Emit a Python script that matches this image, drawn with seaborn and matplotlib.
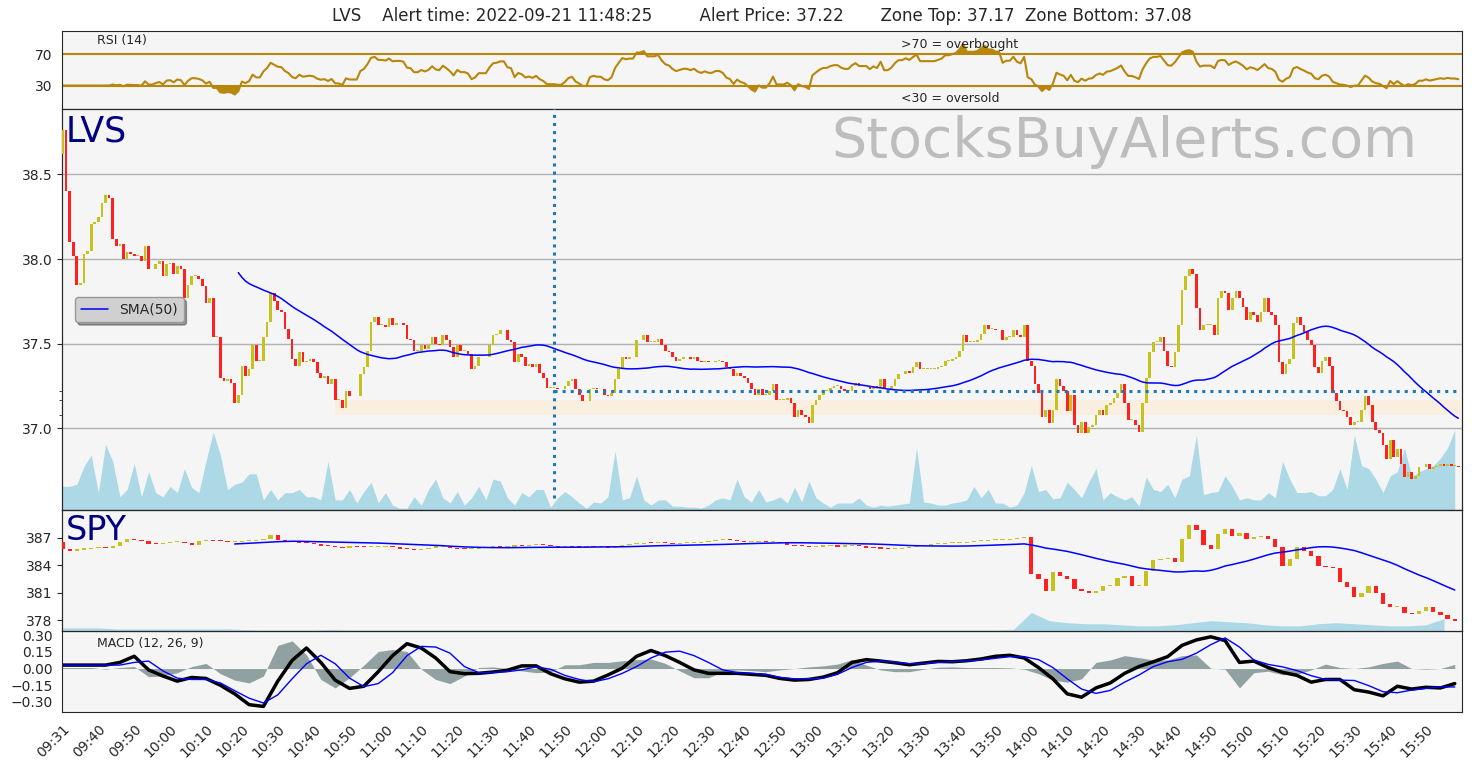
import numpy as np
import pandas as pd
import seaborn as sns
import matplotlib
matplotlib.use("Agg")
import matplotlib.pyplot as plt

sns.set_style("white")
plt.rcParams["font.family"] = ["DejaVu Sans"]

# ---- data (1-minute bars, 09:30..15:59 -> 390 bars) ----
lvs_open0 = 38.62
lvs_close = [
    38.76, 38.40, 38.10, 38.02, 37.85, 37.86, 38.03, 38.05, 38.21, 38.22,
    38.25, 38.33, 38.38, 38.36, 38.12, 38.08, 38.09, 38.00, 38.04, 38.03,
    38.02, 38.02, 37.99, 38.08, 37.94, 37.94, 37.97, 37.99, 37.90, 37.97,
    37.98, 37.91, 37.96, 37.94, 37.77, 37.85, 37.90, 37.90, 37.88, 37.84,
    37.74, 37.77, 37.54, 37.54, 37.30, 37.28, 37.29, 37.27, 37.15, 37.20,
    37.37, 37.31, 37.35, 37.49, 37.40, 37.40, 37.54, 37.63, 37.80, 37.75,
    37.70, 37.69, 37.59, 37.53, 37.41, 37.37, 37.45, 37.39, 37.40, 37.41,
    37.39, 37.33, 37.30, 37.31, 37.26, 37.29, 37.17, 37.17, 37.12, 37.22,
    37.19, 37.19, 37.19, 37.32, 37.36, 37.46, 37.63, 37.66, 37.61, 37.61,
    37.60, 37.65, 37.61, 37.62, 37.62, 37.61, 37.53, 37.52, 37.46, 37.46,
    37.49, 37.47, 37.49, 37.54, 37.50, 37.49, 37.55, 37.52, 37.48, 37.42,
    37.49, 37.46, 37.46, 37.44, 37.35, 37.37, 37.42, 37.42, 37.42, 37.49,
    37.55, 37.56, 37.58, 37.58, 37.52, 37.51, 37.39, 37.44, 37.42, 37.37,
    37.38, 37.36, 37.38, 37.33, 37.30, 37.24, 37.24, 37.24, 37.23, 37.23,
    37.25, 37.28, 37.29, 37.23, 37.20, 37.16, 37.16, 37.23, 37.24, 37.23,
    37.23, 37.20, 37.19, 37.21, 37.29, 37.35, 37.42, 37.41, 37.42, 37.42,
    37.52, 37.52, 37.55, 37.51, 37.51, 37.51, 37.53, 37.49, 37.46, 37.45,
    37.42, 37.40, 37.41, 37.42, 37.42, 37.41, 37.42, 37.40, 37.39, 37.40,
    37.39, 37.39, 37.40, 37.40, 37.39, 37.36, 37.35, 37.31, 37.33, 37.31,
    37.30, 37.27, 37.23, 37.20, 37.23, 37.20, 37.20, 37.22, 37.26, 37.17,
    37.17, 37.17, 37.18, 37.15, 37.07, 37.11, 37.08, 37.07, 37.03, 37.14,
    37.17, 37.20, 37.22, 37.22, 37.24, 37.25, 37.25, 37.23, 37.22, 37.22,
    37.25, 37.27, 37.25, 37.25, 37.25, 37.23, 37.25, 37.24, 37.29, 37.23,
    37.23, 37.25, 37.29, 37.32, 37.32, 37.34, 37.33, 37.36, 37.39, 37.35,
    37.35, 37.35, 37.35, 37.35, 37.36, 37.37, 37.40, 37.40, 37.41, 37.42,
    37.46, 37.55, 37.51, 37.51, 37.51, 37.52, 37.56, 37.61, 37.59, 37.59,
    37.58, 37.58, 37.52, 37.54, 37.54, 37.58, 37.55, 37.54, 37.61, 37.40,
    37.37, 37.26, 37.21, 37.07, 37.11, 37.03, 37.11, 37.29, 37.25, 37.22,
    37.10, 37.20, 37.02, 36.97, 37.04, 36.97, 37.01, 37.02, 37.08, 37.11,
    37.08, 37.14, 37.15, 37.18, 37.21, 37.26, 37.15, 37.05, 37.05, 37.02,
    36.98, 37.15, 37.30, 37.45, 37.51, 37.51, 37.54, 37.46, 37.37, 37.36,
    37.45, 37.61, 37.82, 37.90, 37.94, 37.91, 37.71, 37.58, 37.61, 37.61,
    37.61, 37.55, 37.77, 37.81, 37.80, 37.70, 37.77, 37.81, 37.77, 37.72,
    37.64, 37.69, 37.67, 37.63, 37.69, 37.77, 37.69, 37.67, 37.61, 37.39,
    37.32, 37.38, 37.41, 37.62, 37.66, 37.61, 37.57, 37.52, 37.49, 37.36,
    37.33, 37.40, 37.42, 37.37, 37.21, 37.16, 37.11, 37.10, 37.07, 37.02,
    37.04, 37.04, 37.11, 37.19, 37.14, 37.04, 36.99, 36.97, 36.90, 36.82,
    36.93, 36.83, 36.88, 36.79, 36.71, 36.74, 36.70, 36.72, 36.77, 36.77,
    36.79, 36.76, 36.77, 36.78, 36.79, 36.78, 36.79, 36.78, 36.78, 36.77,
]

# LVS volume, every 2nd bar (thousand shares)
lvs_volume = [
    23, 23, 25, 42, 53, 17, 63, 47, 13, 20,
    45, 13, 37, 17, 13, 23, 17, 40, 22, 17,
    47, 75, 53, 20, 25, 27, 35, 35, 10, 20,
    10, 17, 17, 20, 13, 13, 10, 47, 10, 10,
    20, 7, 18, 27, 7, 17, 5, 2, 2, 13,
    5, 20, 30, 12, 7, 18, 5, 12, 23, 10,
    30, 28, 12, 5, 17, 13, 20, 20, 3, 12,
    18, 13, 7, 2, 8, 7, 13, 57, 10, 12,
    33, 10, 5, 10, 10, 4, 4, 3, 3, 2,
    5, 10, 12, 10, 30, 13, 8, 20, 8, 10,
    13, 7, 22, 8, 28, 12, 7, 3, 7, 7,
    7, 12, 5, 3, 5, 4, 5, 6, 7, 60,
    8, 7, 5, 5, 7, 8, 10, 23, 12, 20,
    7, 7, 3, 5, 17, 43, 18, 20, 11, 12,
    27, 20, 12, 27, 40, 10, 17, 13, 10, 13,
    4, 32, 20, 18, 25, 12, 30, 33, 72, 15,
    17, 18, 33, 23, 10, 12, 10, 10, 17, 12,
    47, 30, 17, 17, 18, 14, 14, 20, 40, 20,
    72, 43, 40, 30, 17, 33, 37, 60, 32, 37,
    40, 43, 50, 60, 77,
]

# SPY closes, every 2nd bar
spy_open0 = 386.52
spy_close = [
    385.79, 385.60, 385.71, 385.79, 385.90, 385.97, 385.86, 386.08, 386.52, 386.82,
    386.74, 386.67, 386.34, 386.30, 386.45, 386.52, 386.52, 386.45, 386.23, 386.67,
    386.78, 386.67, 386.60, 386.52, 386.52, 386.67, 386.67, 386.78, 386.82, 387.26,
    386.78, 386.60, 386.52, 386.45, 386.38, 386.27, 386.15, 386.08, 386.01, 385.90,
    386.08, 386.01, 385.97, 385.97, 385.97, 386.04, 385.97, 385.79, 385.75, 385.64,
    385.79, 385.93, 386.01, 386.01, 385.86, 385.79, 385.75, 385.82, 385.86, 385.93,
    386.01, 385.97, 386.04, 386.15, 386.12, 386.23, 386.34, 386.23, 386.08, 385.97,
    386.04, 385.97, 385.93, 386.01, 385.97, 386.01, 385.93, 386.08, 386.23, 386.27,
    386.34, 386.45, 386.38, 386.45, 386.41, 386.34, 386.38, 386.41, 386.45, 386.52,
    386.60, 386.71, 386.82, 386.71, 386.60, 386.52, 386.52, 386.56, 386.49, 386.52,
    386.41, 386.23, 386.12, 386.08, 386.01, 386.04, 386.08, 386.12, 386.04, 386.08,
    386.15, 386.12, 385.93, 385.86, 385.82, 385.79, 385.79, 385.86, 386.01, 386.08,
    386.15, 386.27, 386.30, 386.38, 386.41, 386.45, 386.52, 386.63, 386.67, 386.74,
    386.74, 386.78, 386.82, 386.93, 387.07, 383.03, 382.48, 381.19, 383.21, 382.77,
    382.48, 381.38, 381.19, 380.93, 381.19, 381.67, 381.74, 382.55, 382.77, 381.74,
    381.74, 383.40, 384.61, 384.68, 384.76, 384.39, 386.89, 388.43, 387.81, 386.23,
    385.79, 387.44, 387.99, 387.18, 387.55, 386.89, 387.04, 387.18, 386.82, 385.97,
    383.88, 384.68, 385.97, 385.60, 385.05, 383.88, 383.77, 383.65, 382.18, 381.56,
    380.57, 380.93, 381.74, 380.93, 379.72, 379.43, 379.46, 378.73, 378.65, 378.99,
    379.46, 378.87, 378.51, 378.07, 377.88,
]

# SPY volume, every 5th bar (relative)
spy_volume = [
    3, 3, 3, 2, 2, 2, 2, 2, 2, 2,                 # 09:30 - 10:15
    1.5, 1, 1, 1, 1, 1.5, 1, 1, 1, 1,             # 10:20 - 11:05
    1, 1, 1, 1, 1, 1, 1, 1, 1, 1,                 # 11:10 - 11:55
    1, 1, 1, 1, 1, 1, 1, 1, 1, 1,                 # 12:00 - 12:45
    1, 1, 1, 1, 1, 1, 1, 1, 1, 1,                 # 12:50 - 13:35
    1, 1, 1, 1.5,                                 # 13:40 - 13:55
    18, 10, 8, 7, 7, 6, 5, 5, 6, 8,               # 14:00 - 14:45
    10, 9, 8, 6, 5, 5, 7, 8, 7, 6,                # 14:50 - 15:35
    5, 5, 6, 12,                                  # 15:40 - 15:55
]

# MACD (12, 26, 9) read every 4th bar
macd_line = [
    0.031, 0.031, 0.031, 0.031, 0.055, 0.110, -0.012, -0.067, -0.113, -0.080,
    -0.089, -0.150, -0.227, -0.324, -0.340, -0.113, 0.073, 0.184, 0.055, -0.104,
    -0.178, -0.159, -0.028, 0.116, 0.223, 0.184, 0.095, -0.028, -0.046, -0.043,
    -0.031, -0.015, 0.024, 0.024, -0.046, -0.092, -0.122, -0.113, -0.058, 0.003,
    0.110, 0.162, 0.116, 0.055, -0.012, -0.043, -0.043, -0.043, -0.052, -0.061,
    -0.089, -0.104, -0.098, -0.077, -0.037, 0.055, 0.080, 0.067, 0.052, 0.034,
    0.049, 0.064, 0.061, 0.070, 0.086, 0.110, 0.119, 0.095, 0.009, -0.092,
    -0.227, -0.257, -0.174, -0.129, -0.043, 0.018, 0.061, 0.107, 0.208, 0.257,
    0.285, 0.251, 0.055, 0.067, 0.009, -0.034, -0.061, -0.122, -0.098, -0.098,
    -0.190, -0.211, -0.245, -0.159, -0.184, -0.168, -0.174, -0.135,
]
macd_signal = [
    0.031, 0.031, 0.031, 0.031, 0.031, 0.055, 0.067, -0.021, -0.086, -0.098,
    -0.098, -0.129, -0.199, -0.266, -0.309, -0.236, -0.092, 0.043, 0.119, 0.043,
    -0.086, -0.162, -0.135, -0.037, 0.116, 0.199, 0.193, 0.138, 0.018, -0.037,
    -0.034, -0.028, -0.012, 0.015, -0.006, -0.061, -0.098, -0.119, -0.092, -0.043,
    0.018, 0.095, 0.147, 0.156, 0.116, 0.055, -0.012, -0.037, -0.043, -0.052,
    -0.080, -0.092, -0.092, -0.086, -0.052, 0.009, 0.055, 0.067, 0.058, 0.043,
    0.043, 0.055, 0.061, 0.067, 0.077, 0.092, 0.107, 0.107, 0.080, 0.009,
    -0.092, -0.184, -0.223, -0.196, -0.122, -0.058, 0.018, 0.061, 0.083, 0.138,
    0.214, 0.275, 0.193, 0.077, 0.037, 0.015, -0.018, -0.064, -0.098, -0.104,
    -0.107, -0.153, -0.208, -0.217, -0.193, -0.178, -0.165, -0.165,
]
macd_hist = [
    0.009, 0.009, 0.009, -0.006, 0.009, 0.018, -0.073, -0.067, -0.037, 0.018,
    0.046, -0.046, -0.104, -0.129, -0.067, 0.208, 0.248, 0.122, -0.098, -0.174,
    -0.083, 0.031, 0.153, 0.171, 0.153, -0.006, -0.098, -0.135, -0.067, 0.009,
    0.015, 0.000, -0.021, -0.037, -0.031, 0.034, 0.034, 0.055, 0.055, 0.070,
    0.080, 0.086, 0.046, -0.021, -0.083, -0.083, -0.028, -0.012, -0.018, -0.028,
    -0.012, 0.000, 0.015, 0.024, 0.040, 0.080, 0.031, -0.012, -0.028, -0.028,
    -0.006, 0.012, 0.015, 0.009, 0.009, 0.009, 0.006, -0.006, -0.046, -0.104,
    -0.122, -0.092, 0.055, 0.077, 0.116, 0.098, 0.077, 0.077, 0.116, 0.122,
    0.003, -0.006, -0.174, -0.037, -0.024, -0.055, -0.052, -0.012, 0.040, 0.009,
    0.000, 0.015, 0.046, 0.067, 0.000, -0.006, 0.000, 0.037,
]

tick_labels = [
    "09:31", "09:40", "09:50", "10:00", "10:10", "10:20", "10:30", "10:40",
    "10:50", "11:00", "11:10", "11:20", "11:30", "11:40", "11:50", "12:00",
    "12:10", "12:20", "12:30", "12:40", "12:50", "13:00", "13:10", "13:20",
    "13:30", "13:40", "13:50", "14:00", "14:10", "14:20", "14:30", "14:40",
    "14:50", "15:00", "15:10", "15:20", "15:30", "15:40", "15:50",
]

alert_bar = 137
alert_price = 37.22
zone_top, zone_bottom = 37.17, 37.08
zone_start = 76

UP = "#c6c21c"
DOWN = "#ff2020"
BG = "#f5f5f5"
GOLD = "#b8860b"

n = len(lvs_close)
x = np.arange(n)
close = np.array(lvs_close)
opens = np.concatenate([[lvs_open0], close[:-1]])

spy_c = np.array(spy_close)
spy_x = np.arange(0, n, 2)[: len(spy_c)]
spy_o = np.concatenate([[spy_open0], spy_c[:-1]])

macd_x = np.arange(0, n, 4)[: len(macd_line)]


def candles(ax, xs, o, c, width, min_h):
    lo = np.minimum(o, c)
    h = np.maximum(np.abs(c - o), min_h)
    up = c >= o
    ax.bar(xs[up], h[up], width, bottom=lo[up], color=UP, lw=0, zorder=3)
    ax.bar(xs[~up], h[~up], width, bottom=lo[~up], color=DOWN, lw=0, zorder=3)


# ---- indicators computed from the closes ----
cs = pd.Series(close)
sma50 = cs.rolling(50).mean()
spy_sma = pd.Series(spy_c).rolling(25).mean()

delta = np.diff(close, prepend=close[0])
gain = np.clip(delta, 0, None)
loss = np.clip(-delta, 0, None)
ag = np.full(n, np.nan)
al = np.full(n, np.nan)
ag[14] = gain[1:15].mean()
al[14] = loss[1:15].mean()
for i in range(15, n):
    ag[i] = (ag[i - 1] * 13 + gain[i]) / 14
    al[i] = (al[i - 1] * 13 + loss[i]) / 14
rsi = 100 - 100 / (1 + ag / al)
rsi = np.where(np.isnan(rsi), 30, rsi)

# ---- figure ----
fig = plt.figure(figsize=(14.77, 7.68), dpi=100)
L, W = 0.0423, 0.9475
ax_rsi = fig.add_axes([L, 0.8581, W, 0.1019])
ax = fig.add_axes([L, 0.3355, W, 0.5226], sharex=ax_rsi)
ax_spy = fig.add_axes([L, 0.1784, W, 0.1571], sharex=ax_rsi)
ax_macd = fig.add_axes([L, 0.0729, W, 0.1055], sharex=ax_rsi)

for a in (ax_rsi, ax, ax_spy, ax_macd):
    a.set_facecolor(BG)
    a.tick_params(labelsize=10)

# RSI panel
sns.lineplot(x=x, y=rsi, ax=ax_rsi, color=GOLD, linewidth=1.5)
ax_rsi.axhline(70, color=GOLD, lw=1.5)
ax_rsi.axhline(30, color=GOLD, lw=1.5)
ax_rsi.fill_between(x, rsi, 30, where=rsi < 30, interpolate=True, color=GOLD, lw=0)
ax_rsi.fill_between(x, rsi, 70, where=rsi > 70, interpolate=True, color=GOLD, lw=0)
ax_rsi.set_ylim(0, 100)
ax_rsi.set_yticks([30, 70])
ax_rsi.text(0.025, 0.88, "RSI (14)", transform=ax_rsi.transAxes, fontsize=9, va="center")
ax_rsi.text(0.599, 0.83, ">70 = overbought", transform=ax_rsi.transAxes, fontsize=9, va="center")
ax_rsi.text(0.599, 0.14, "<30 = oversold", transform=ax_rsi.transAxes, fontsize=9, va="center")
ax_rsi.set_title("LVS    Alert time: 2022-09-21 11:48:25         Alert Price: 37.22"
                 "       Zone Top: 37.17  Zone Bottom: 37.08", fontsize=12, pad=7)

# main LVS panel with volume underneath
vol_ax = ax.twinx()
vol_x = np.arange(0, n, 2)[: len(lvs_volume)]
vol_ax.fill_between(vol_x, 0, lvs_volume, color="lightblue", lw=0)
vol_ax.set_ylim(0, max(lvs_volume) * 5.0)
vol_ax.set_yticks([])
vol_ax.patch.set_visible(True)
vol_ax.set_facecolor(BG)
ax.set_zorder(vol_ax.get_zorder() + 1)
ax.patch.set_visible(False)

ax.fill_between([zone_start, n], zone_bottom, zone_top, color="#f9eee0", lw=0, zorder=1)
candles(ax, x, opens, close, 0.75, 0.004)
sns.lineplot(x=x, y=sma50.values, ax=ax, color="blue", linewidth=1.1, label="SMA(50)", zorder=4)
ax.plot([alert_bar, n - 1], [alert_price, alert_price], ls=":", lw=2.2, color="#1f77b4", zorder=5)
ax.plot([alert_bar, alert_bar], [36.59, 38.9], ls=":", lw=2.2, color="#1f77b4", zorder=5)
ax.set_ylim(36.516, 38.887)
ax.set_yticks([37.0, 37.5, 38.0, 38.5])
ax.set_yticks([zone_bottom, zone_top, alert_price], minor=True)
ax.grid(axis="y", which="major", color="#b0b0b0", lw=1)
ax.set_axisbelow(True)
ax.text(0.002, 0.985, "LVS", transform=ax.transAxes, fontsize=25, color="navy", va="top")
ax.text(0.9686, 0.985, "StocksBuyAlerts.com", transform=ax.transAxes, fontsize=40,
        color="#bdbdbd", ha="right", va="top")
ax.legend(loc="center left", bbox_to_anchor=(0.004, 0.5), frameon=True, shadow=True,
          fancybox=True, facecolor="#d0d0d0", edgecolor="#999999", fontsize=10, framealpha=1)

# SPY panel
spy_vol_ax = ax_spy.twinx()
spy_vol_x = np.arange(0, n, 5)[: len(spy_volume)]
spy_vol_ax.fill_between(spy_vol_x, 0, spy_volume, color="lightblue", lw=0)
spy_vol_ax.set_ylim(0, max(spy_volume) * 6.5)
spy_vol_ax.set_yticks([])
spy_vol_ax.patch.set_visible(True)
spy_vol_ax.set_facecolor(BG)
ax_spy.set_zorder(spy_vol_ax.get_zorder() + 1)
ax_spy.patch.set_visible(False)

candles(ax_spy, spy_x, spy_o, spy_c, 1.2, 0.12)
sns.lineplot(x=spy_x, y=spy_sma.values, ax=ax_spy, color="blue", linewidth=1.1, zorder=4)
ax_spy.set_ylim(376.8, 390.0)
ax_spy.set_yticks([378, 381, 384, 387])
ax_spy.text(0.002, 0.97, "SPY", transform=ax_spy.transAxes, fontsize=24, color="navy", va="top")

# MACD panel
ax_macd.fill_between(macd_x, 0, macd_hist, color="darkslategray", alpha=0.5, lw=0)
sns.lineplot(x=macd_x, y=macd_line, ax=ax_macd, color="black", linewidth=2.5)
sns.lineplot(x=macd_x, y=macd_signal, ax=ax_macd, color="blue", linewidth=1.0)
ax_macd.set_ylim(-0.39, 0.337)
ax_macd.set_yticks([-0.30, -0.15, 0.0, 0.15, 0.30])
ax_macd.set_yticklabels(["\u22120.30", "\u22120.15", "0.00", "0.15", "0.30"])
ax_macd.text(0.025, 0.85, "MACD (12, 26, 9)", transform=ax_macd.transAxes, fontsize=9, va="center")

ax_macd.set_xlim(0, n)
ax_macd.set_xticks(np.arange(0, 10 * len(tick_labels), 10))
ax_macd.set_xticklabels(tick_labels, rotation=45, ha="right", rotation_mode="anchor")
for a in (ax_rsi, ax, ax_spy):
    a.tick_params(labelbottom=False)
for a in (ax_rsi, ax, ax_spy, ax_macd):
    a.set_xlabel("")
    a.set_ylabel("")

fig.savefig("out.png", dpi=100)
